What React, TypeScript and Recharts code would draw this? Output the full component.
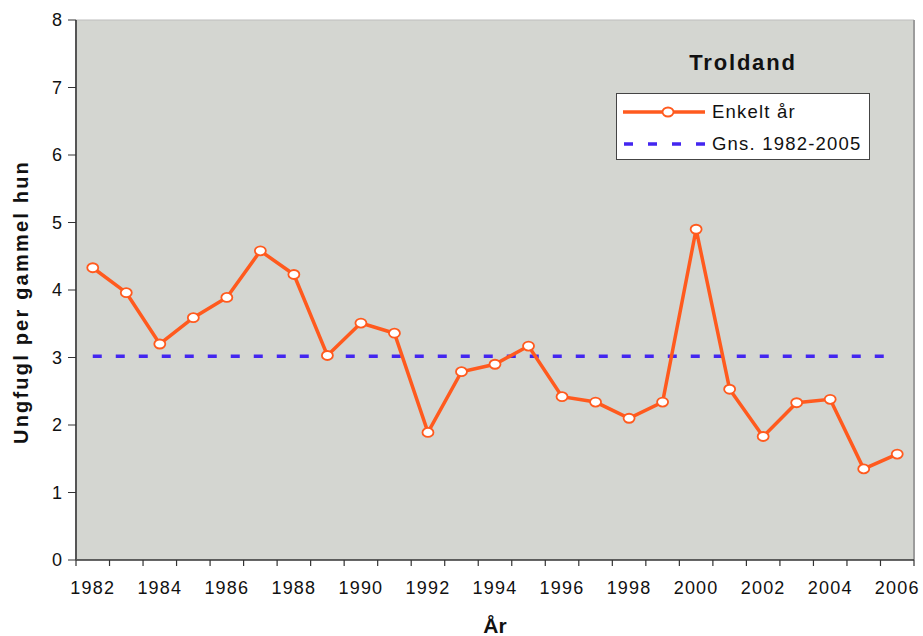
import { LineChart, Line, XAxis, YAxis, CartesianGrid, Legend, ReferenceLine } from "recharts"

const years = [
    1982, 1983, 1984, 1985, 1986, 1987, 1988, 1989, 1990, 1991, 1992, 1993, 1994,
    1995, 1996, 1997, 1998, 1999, 2000, 2001, 2002, 2003, 2004, 2005, 2006,
]
const enkeltAar = [
    4.33, 3.96, 3.2, 3.59, 3.89, 4.58, 4.23, 3.03, 3.51, 3.36, 1.89, 2.79, 2.9,
    3.17, 2.42, 2.34, 2.1, 2.34, 4.9, 2.53, 1.83, 2.33, 2.38, 1.35, 1.57,
]
const gennemsnit = [
    3.02, 3.02, 3.02, 3.02, 3.02, 3.02, 3.02, 3.02, 3.02, 3.02, 3.02, 3.02, 3.02,
    3.02, 3.02, 3.02, 3.02, 3.02, 3.02, 3.02, 3.02, 3.02, 3.02, 3.02, 3.02,
]
const yTicks = [0, 1, 2, 3, 4, 5, 6, 7, 8]
const labelYears = [1982, 1984, 1986, 1988, 1990, 1992, 1994, 1996, 1998, 2000, 2002, 2004, 2006]

const ORANGE = "#ff5a1e"
const BLUE = "#4326f0"
const FONT = "'Liberation Sans', Arial, sans-serif"

const data = years.map((year, i) => ({ year, value: enkeltAar[i], avg: gennemsnit[i] }))

// tick marks sit on category boundaries, labels on the category centres
const boundaries = [...years.map((y) => y - 0.5), years[years.length - 1] + 0.5]
const xTicks = [...boundaries, ...labelYears].sort((a, b) => a - b)

function XTick(props: any) {
    const { x, y, payload } = props
    if (!Number.isInteger(payload.value)) {
        return <line x1={x} x2={x} y1={y} y2={y + 6} stroke="#333" strokeWidth={1.2} />
    }
    return (
        <text x={x} y={y + 34} textAnchor="middle" fontSize={18} letterSpacing={1.2} fill="#111" fontFamily={FONT}>
            {payload.value}
        </text>
    )
}

function Marker(props: any) {
    const { cx, cy, index } = props
    return <ellipse key={`dot-${index}`} cx={cx} cy={cy} rx={5.5} ry={4.5} fill="#fff" stroke={ORANGE} strokeWidth={1.8} />
}

function LegendBox() {
    return (
        <div style={{ width: 254, fontFamily: FONT, color: "#111" }}>
            <div style={{ textAlign: "center", fontWeight: "bold", fontSize: 22, letterSpacing: 1.8, height: 45, lineHeight: "30px" }}>
                Troldand
            </div>
            <div style={{ border: "1px solid #444", background: "#fff", height: 67, boxSizing: "border-box" }}>
                <div style={{ display: "flex", alignItems: "center", height: 35 }}>
                    <svg width={90} height={20} style={{ marginLeft: 5 }}>
                        <line x1={1} x2={83} y1={10} y2={10} stroke={ORANGE} strokeWidth={3.5} />
                        <ellipse cx={46} cy={10} rx={5.5} ry={4.5} fill="#fff" stroke={ORANGE} strokeWidth={1.8} />
                    </svg>
                    <span style={{ fontSize: 18.5, letterSpacing: 1.2 }}>Enkelt år</span>
                </div>
                <div style={{ display: "flex", alignItems: "center", height: 30 }}>
                    <svg width={90} height={20} style={{ marginLeft: 5 }}>
                        <line x1={2} x2={83} y1={10} y2={10} stroke={BLUE} strokeWidth={3.5} strokeDasharray="9 15" />
                    </svg>
                    <span style={{ fontSize: 18.5, letterSpacing: 1.2 }}>Gns. 1982-2005</span>
                </div>
            </div>
        </div>
    )
}

export default function App() {
    return (
        <div style={{ position: "absolute", left: 0, top: 0, background: "#fff" }}>
            <LineChart width={923} height={636} data={data} margin={{ top: 20, right: 9, left: 0, bottom: 0 }}>
                <CartesianGrid fill="#d4d6d1" stroke="none" horizontal={false} vertical={false} />
                <XAxis
                    dataKey="year"
                    type="number"
                    domain={[1981.5, 2006.5]}
                    ticks={xTicks}
                    interval={0}
                    tick={<XTick />}
                    tickLine={false}
                    tickSize={0}
                    tickMargin={0}
                    height={76}
                    axisLine={{ stroke: "#333", strokeWidth: 1.5 }}
                    label={{
                        content: (p: any) => (
                            <text
                                x={p.viewBox.x + p.viewBox.width / 2}
                                y={p.viewBox.y + 73}
                                textAnchor="middle"
                                fontSize={21}
                                fontWeight="bold"
                                fontFamily={FONT}
                                fill="#111"
                            >
                                År
                            </text>
                        ),
                    }}
                />
                <YAxis
                    domain={[0, 8]}
                    ticks={yTicks}
                    interval={0}
                    width={76}
                    tickSize={8}
                    tickMargin={6}
                    tick={{ fontSize: 18, fill: "#111", fontFamily: FONT }}
                    tickLine={{ stroke: "#333" }}
                    axisLine={{ stroke: "#555", strokeWidth: 2 }}
                    label={{
                        content: (p: any) => {
                            const cx = 21
                            const cy = p.viewBox.y + p.viewBox.height / 2 + 12
                            return (
                                <text
                                    x={cx}
                                    y={cy}
                                    transform={`rotate(-90 ${cx} ${cy})`}
                                    textAnchor="middle"
                                    dominantBaseline="central"
                                    fontSize={20}
                                    fontWeight="bold"
                                    letterSpacing={2.2}
                                    fontFamily={FONT}
                                    fill="#111"
                                >
                                    Ungfugl per gammel hun
                                </text>
                            )
                        },
                    }}
                />
                <ReferenceLine y={8} stroke="#bdbdbd" strokeWidth={1} />
                <ReferenceLine x={2006.5} stroke="#9c9c9c" strokeWidth={2} />
                <Legend
                    layout="vertical"
                    align="center"
                    verticalAlign="middle"
                    content={<LegendBox />}
                    wrapperStyle={{ left: 616, top: 48, width: 254 }}
                />
                <Line
                    dataKey="avg"
                    name="Gns. 1982-2005"
                    stroke={BLUE}
                    strokeWidth={3.5}
                    strokeDasharray="9 14"
                    dot={false}
                    activeDot={false}
                    isAnimationActive={false}
                />
                <Line
                    dataKey="value"
                    name="Enkelt år"
                    stroke={ORANGE}
                    strokeWidth={3.5}
                    dot={<Marker />}
                    activeDot={false}
                    isAnimationActive={false}
                />
            </LineChart>
        </div>
    )
}
